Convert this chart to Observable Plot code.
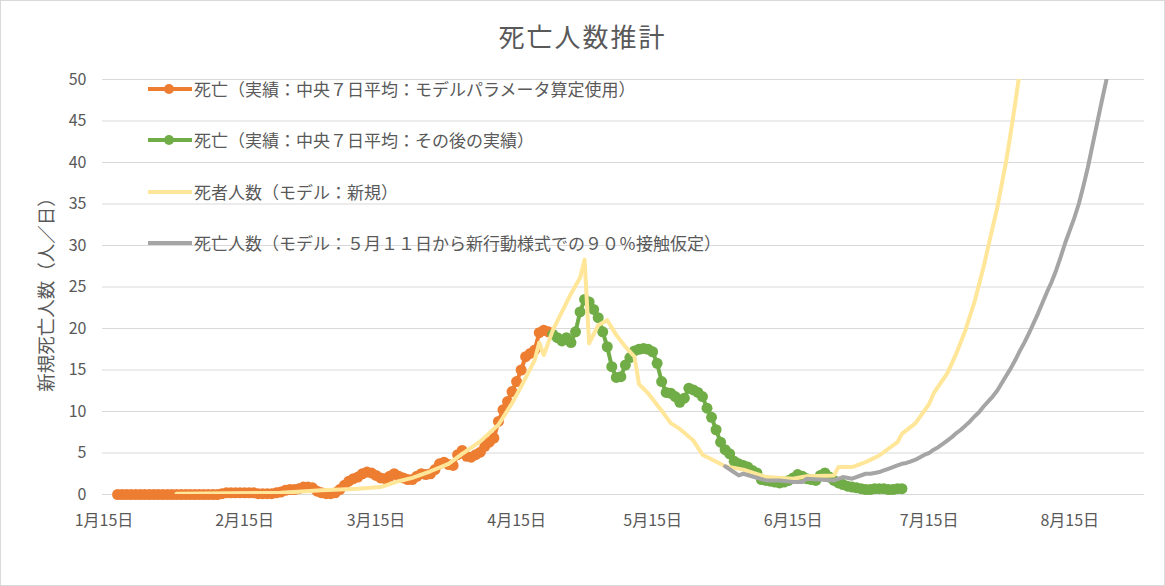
<!DOCTYPE html>
<html><head><meta charset="utf-8">
<script src="https://cdn.jsdelivr.net/npm/d3@7"></script>
<script src="https://cdn.jsdelivr.net/npm/@observablehq/plot@0.6"></script>
<style>
body{margin:0;background:#fff;}
#wrap{position:relative;width:1165px;height:586px;box-sizing:border-box;border:1px solid #d9d9d9;font-family:"Noto Sans CJK JP",sans-serif;color:#595959;background:#fff;overflow:hidden;}
#wrap svg.plot{position:absolute;left:0;top:0;}
#title{position:absolute;left:0;width:100%;top:22px;text-align:center;font-size:26px;line-height:1;letter-spacing:2px;}
.leg{position:absolute;left:147px;height:20px;display:flex;align-items:center;font-size:17px;line-height:20px;white-space:nowrap;}
.leg svg{display:block;margin-right:2px;}
</style></head>
<body><div id="wrap"><div id="title">死亡人数推計</div></div>
<script>
// ---- data ----
const seriesNames = [
  "死亡（実績：中央７日平均：モデルパラメータ算定使用）",
  "死亡（実績：中央７日平均：その後の実績）",
  "死者人数（モデル：新規）",
  "死亡人数（モデル：５月１１日から新行動様式での９０％接触仮定）"
];
const seriesColors = ["#ED7D31", "#70AD47", "#FFE699", "#A5A5A5"];

const tickDates = ["2020-01-15","2020-02-15","2020-03-15","2020-04-15","2020-05-15","2020-06-15","2020-07-15","2020-08-15"];
const tickLabels = ["1月15日","2月15日","3月15日","4月15日","5月15日","6月15日","7月15日","8月15日"];
const yTicks = [0,5,10,15,20,25,30,35,40,45,50];

// actual deaths (central 7-day average), daily from start date
const orangeStart = "2020-01-18";
const orangeValues = [
  0,0,0,0,0,0,0,0,0,0,0,0,0,0,0,0,0,0,0,0,0,0,0,
  0.1,0.2,0.2,0.2,0.2,0.2,0.2,0.2,0.1,
  0.1,0.1,0.1,0.2,
  0.3,0.5,0.6,0.6,0.7,0.9,0.9,0.8,0.4,0.2,
  0.1,0.1,0.2,0.6,1.1,1.6,1.9,2.1,2.5,2.7,
  2.6,2.3,2.0,1.9,2.2,2.5,2.2,2.0,1.8,1.8,
  2.2,2.5,2.4,2.5,3.0,3.7,3.9,3.6,3.5,4.8,
  5.3,4.6,4.5,4.8,5.1,5.8,6.3,6.8,8.8,10.2,
  11.2,12.4,13.6,15.0,16.6,17.0,17.4,19.5,19.8,19.6
];
const greenStart = "2020-04-23";
const greenValues = [
  19.3,18.9,18.5,18.9,18.3,19.6,22.0,23.5,23.2,22.3,
  21.3,19.6,17.8,15.4,14.1,14.2,15.6,16.5,17.3,17.5,
  17.6,17.5,17.2,15.8,13.6,12.3,12.2,11.8,11.1,11.6,
  12.8,12.6,12.3,11.8,10.4,9.3,7.8,6.3,5.4,4.9,
  4.0,3.7,3.5,3.3,2.9,2.6,1.8,1.7,1.6,1.5,
  1.4,1.5,1.7,2.0,2.4,2.2,1.9,1.8,1.7,2.3,
  2.6,2.1,1.7,1.4,1.2,1.0,0.9,0.8,0.7,0.6,
  0.6,0.7,0.7,0.7,0.6,0.6,0.7,0.7
];
// model (new)
const yellowDates = ["2020-01-31","2020-02-23","2020-03-03","2020-03-11","2020-03-16","2020-03-20","2020-03-23","2020-03-27","2020-03-31","2020-04-03",
  "2020-04-07","2020-04-11","2020-04-14","2020-04-16","2020-04-19","2020-04-20","2020-04-21","2020-04-23","2020-04-25","2020-04-27",
  "2020-04-29","2020-04-30","2020-05-01","2020-05-03","2020-05-05","2020-05-07","2020-05-09","2020-05-11","2020-05-12","2020-05-14",
  "2020-05-17","2020-05-19","2020-05-21","2020-05-24","2020-05-26","2020-05-31","2020-06-04","2020-06-09","2020-06-15","2020-06-18",
  "2020-06-24","2020-06-25","2020-06-28","2020-07-01","2020-07-04","2020-07-08","2020-07-09","2020-07-12","2020-07-15","2020-07-16",
  "2020-07-19","2020-07-21","2020-07-23","2020-07-25","2020-07-27","2020-07-28","2020-07-30","2020-08-01","2020-08-02","2020-08-03",
  "2020-08-04","2020-08-05"];
const yellowValues = [0.1,0.2,0.5,0.7,0.9,1.6,2.0,2.8,3.7,4.9,
  6.4,8.4,11.0,13.0,16.2,18.3,16.8,19.8,22.0,24.2,
  26.1,28.3,18.2,20.4,21.0,19.2,17.8,16.6,13.3,12.2,
  10.1,8.6,7.9,6.5,4.8,3.4,3.0,2.1,1.9,2.2,
  2.3,3.3,3.3,3.9,4.7,6.3,7.3,8.6,10.9,12.2,
  14.6,17.0,19.8,23.2,27.4,29.8,34.5,40.2,43.6,47.2,
  51.0,55.0];
// model (90% contact from May 11): early readings, then daily from Jul 1
const grayEarlyDates = ["2020-05-31","2020-06-03","2020-06-04","2020-06-09","2020-06-12","2020-06-15","2020-06-17","2020-06-18","2020-06-24","2020-06-26","2020-06-28"];
const grayEarlyValues = [3.4,2.3,2.5,1.7,1.7,1.5,1.5,1.9,1.7,2.1,1.9];
const grayDailyStart = "2020-07-01";
const grayDailyValues = [
  2.5,2.5,2.6,2.7,2.9,3.1,3.3,3.5,3.7,3.8,
  4.0,4.2,4.5,4.8,5.0,5.4,5.7,6.1,6.5,6.9,
  7.4,7.8,8.3,8.8,9.4,9.9,10.6,11.2,11.8,12.5,
  13.4,14.3,15.2,16.2,17.3,18.3,19.4,20.6,21.8,23.1,
  24.4,25.6,27.0,28.6,30.3,31.8,33.3,35.0,37.1,39.4,
  42.0,44.6,47.2,49.7,52.5
];

// ---- build tables ----
const daily = (start, vals) => vals.map((v, i) => ({date: d3.utcDay.offset(new Date(start), i), value: v}));
const orangeData = daily(orangeStart, orangeValues);
const greenData = daily(greenStart, greenValues);
const yellowData = yellowDates.map((d, i) => ({date: new Date(d), value: yellowValues[i]}));
const grayData = grayEarlyDates.map((d, i) => ({date: new Date(d), value: grayEarlyValues[i]}))
  .concat(daily(grayDailyStart, grayDailyValues));
const tickObjs = tickDates.map(d => new Date(d));
const tickMap = new Map(tickObjs.map((d, i) => [+d, tickLabels[i]]));

const font = '"Noto Sans CJK JP", sans-serif';
const chart = Plot.plot({
  width: 1163, height: 584,
  marginLeft: 101, marginRight: 20, marginTop: 78, marginBottom: 91,
  style: {fontFamily: font, fontSize: "16px", color: "#595959", background: "transparent"},
  x: {type: "utc", domain: [new Date("2020-01-14T16:00:00Z"), new Date("2020-08-31T12:00:00Z")]},
  y: {domain: [0, 50]},
  marks: [
    Plot.gridY(yTicks, {stroke: "#d9d9d9", strokeOpacity: 1, strokeWidth: 1}),
    Plot.axisX(tickObjs, {tickSize: 0, tickPadding: 20, tickFormat: d => tickMap.get(+d), label: null, fontSize: 16, fill: "#595959"}),
    Plot.axisY(yTicks, {tickSize: 0, tickPadding: 16, label: null, fontSize: 16, fill: "#595959"}),
    Plot.text(["新規死亡人数（人／日）"], {frameAnchor: "left", textAnchor: "middle", lineAnchor: "middle", dx: -55, dy: 3, rotate: -90, fontSize: 18.5, fill: "#595959"}),
    Plot.line(orangeData, {x: "date", y: "value", stroke: seriesColors[0], strokeWidth: 4}),
    Plot.dot(orangeData, {x: "date", y: "value", r: 5.5, fill: seriesColors[0], stroke: "none"}),
    Plot.line(greenData, {x: "date", y: "value", stroke: seriesColors[1], strokeWidth: 4}),
    Plot.dot(greenData, {x: "date", y: "value", r: 5.5, fill: seriesColors[1], stroke: "none"}),
    Plot.line(yellowData, {x: "date", y: "value", stroke: seriesColors[2], strokeWidth: 4, clip: true}),
    Plot.line(grayData, {x: "date", y: "value", stroke: seriesColors[3], strokeWidth: 4, clip: true})
  ]
});
const wrap = document.getElementById("wrap");
chart.classList.add("plot");
wrap.insertBefore(chart, wrap.firstChild);

// legend (inside plot area, top-left)
const legendTops = [78, 129, 181, 232];
seriesNames.forEach((name, i) => {
  const div = document.createElement("div");
  div.className = "leg";
  div.style.top = legendTops[i] + "px";
  const marker = i < 2 ? `<circle cx="21" cy="6" r="5" fill="${seriesColors[i]}"/>` : "";
  div.innerHTML = `<svg width="44" height="12"><line x1="0" x2="44" y1="6" y2="6" stroke="${seriesColors[i]}" stroke-width="4"/>${marker}</svg><span>${name}</span>`;
  wrap.appendChild(div);
});
</script>
</body></html>
